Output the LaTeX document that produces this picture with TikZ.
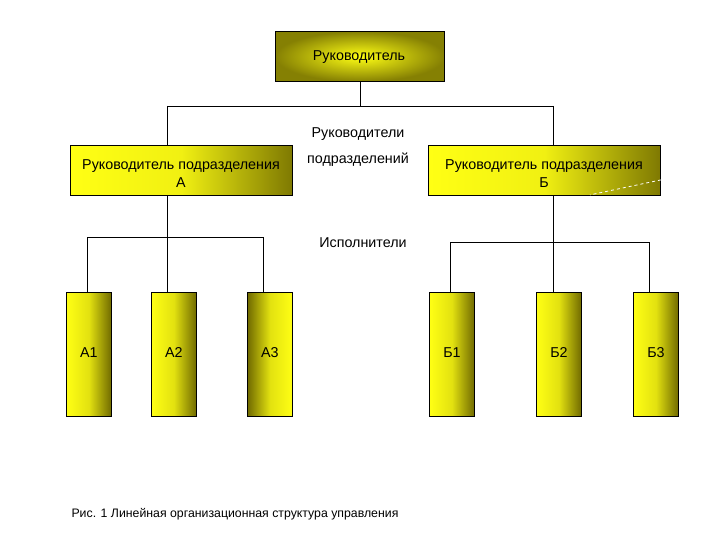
\documentclass[tikz,border=0pt]{standalone}
\usepackage{fontspec}
\setmainfont{Liberation Sans}
\usepackage{tikz}
\usetikzlibrary{calc}

\definecolor{yel}{RGB}{255,255,20}
\definecolor{oli}{RGB}{112,106,0}
\tikzset{
  box/.style={draw=black, line width=0.9pt, inner sep=0pt, anchor=north west},
  bossbox/.style={box, inner color=yel, outer color=oli!85!yel},
  depbox/.style={box, left color=yel, right color=oli!90!yel, middle color=yel!90!oli},
  execbox/.style={box, left color=yel, right color=oli, middle color=yel!80!oli},
  execrev/.style={box, left color=oli, right color=yel, middle color=yel!80!oli},
  lbl/.style={font=\fontsize{14.3}{18}\selectfont, align=center},
  link/.style={draw=black, line width=0.9pt}
}

\begin{document}
\begin{tikzpicture}[x=1pt, y=-1pt]
    \useasboundingbox (0,0) rectangle (720,540);

    % руководитель
    \node[bossbox, minimum width=169pt, minimum height=50pt] (boss) at (275,31) {};
    \node[lbl] (bosst) at (359,57) {Руководитель};

    % подразделения
    \node[depbox, minimum width=222pt, minimum height=50pt] (depA) at (70,145) {};
    \node[lbl] (depAt) at (181,174) {Руководитель подразделения\\А};
    \node[depbox, minimum width=232pt, minimum height=50pt] (depB) at (428,145) {};
    \node[lbl] (depBt) at (544,174) {Руководитель подразделения\\Б};
    \draw[white, dashed, line width=0.8pt] ($(depB.south east)+(0,-16)$) -- ($(depB.south west)+(162,-1)$);

    % исполнители
    \foreach \nm/\xx/\st/\tx in {a1/66/execbox/А1, a2/151/execbox/А2, a3/247/execrev/А3,
                                 b1/429/execbox/Б1, b2/536/execbox/Б2, b3/633/execbox/Б3} {
      \node[\st, minimum width=45pt, minimum height=124pt] (\nm) at (\xx,292) {};
      \node[lbl] (\nm t) at ($(\nm.center)+(0,-2)$) {\tx};
    }

    % подписи
    \node[lbl] (lead1) at (358,134) {Руководители};
    \node[lbl] (lead2) at (358,160) {подразделений};
    \node[lbl] (execl) at (363,243) {Исполнители};
    \node[font=\fontsize{12.3}{14}\selectfont, anchor=west] (cap) at (68,514)
      {Рис. 1 Линейная организационная структура управления};

    % связи верхнего уровня
    \coordinate (busL) at (167,106);
    \coordinate (busR) at (553,106);
    \coordinate (busM) at (360,106);
    \draw[link] (boss.south -| busM) -- (busM);
    \draw[link] (busL) -- (busR);
    \draw[link] (busL) -- (depA.north -| busL);
    \draw[link] (busR) -- (depB.north -| busR);

    % связи группы А
    \coordinate (aL) at (87.5,237);
    \coordinate (aM) at (167,237);
    \coordinate (aR) at (263.5,237);
    \draw[link] (depA.south -| aM) -- (aM);
    \draw[link] (aL) -- (aR);
    \draw[link] (aL) -- (a1.north -| aL);
    \draw[link] (aM) -- (a2.north -| aM);
    \draw[link] (aR) -- (a3.north -| aR);

    % связи группы Б
    \coordinate (bL) at (450.5,242);
    \coordinate (bM) at (553,242);
    \coordinate (bR) at (649.5,242);
    \draw[link] (depB.south -| bM) -- (bM);
    \draw[link] (bL) -- (bR);
    \draw[link] (bL) -- (b1.north -| bL);
    \draw[link] (bM) -- (b2.north -| bM);
    \draw[link] (bR) -- (b3.north -| bR);
\end{tikzpicture}
\end{document}
